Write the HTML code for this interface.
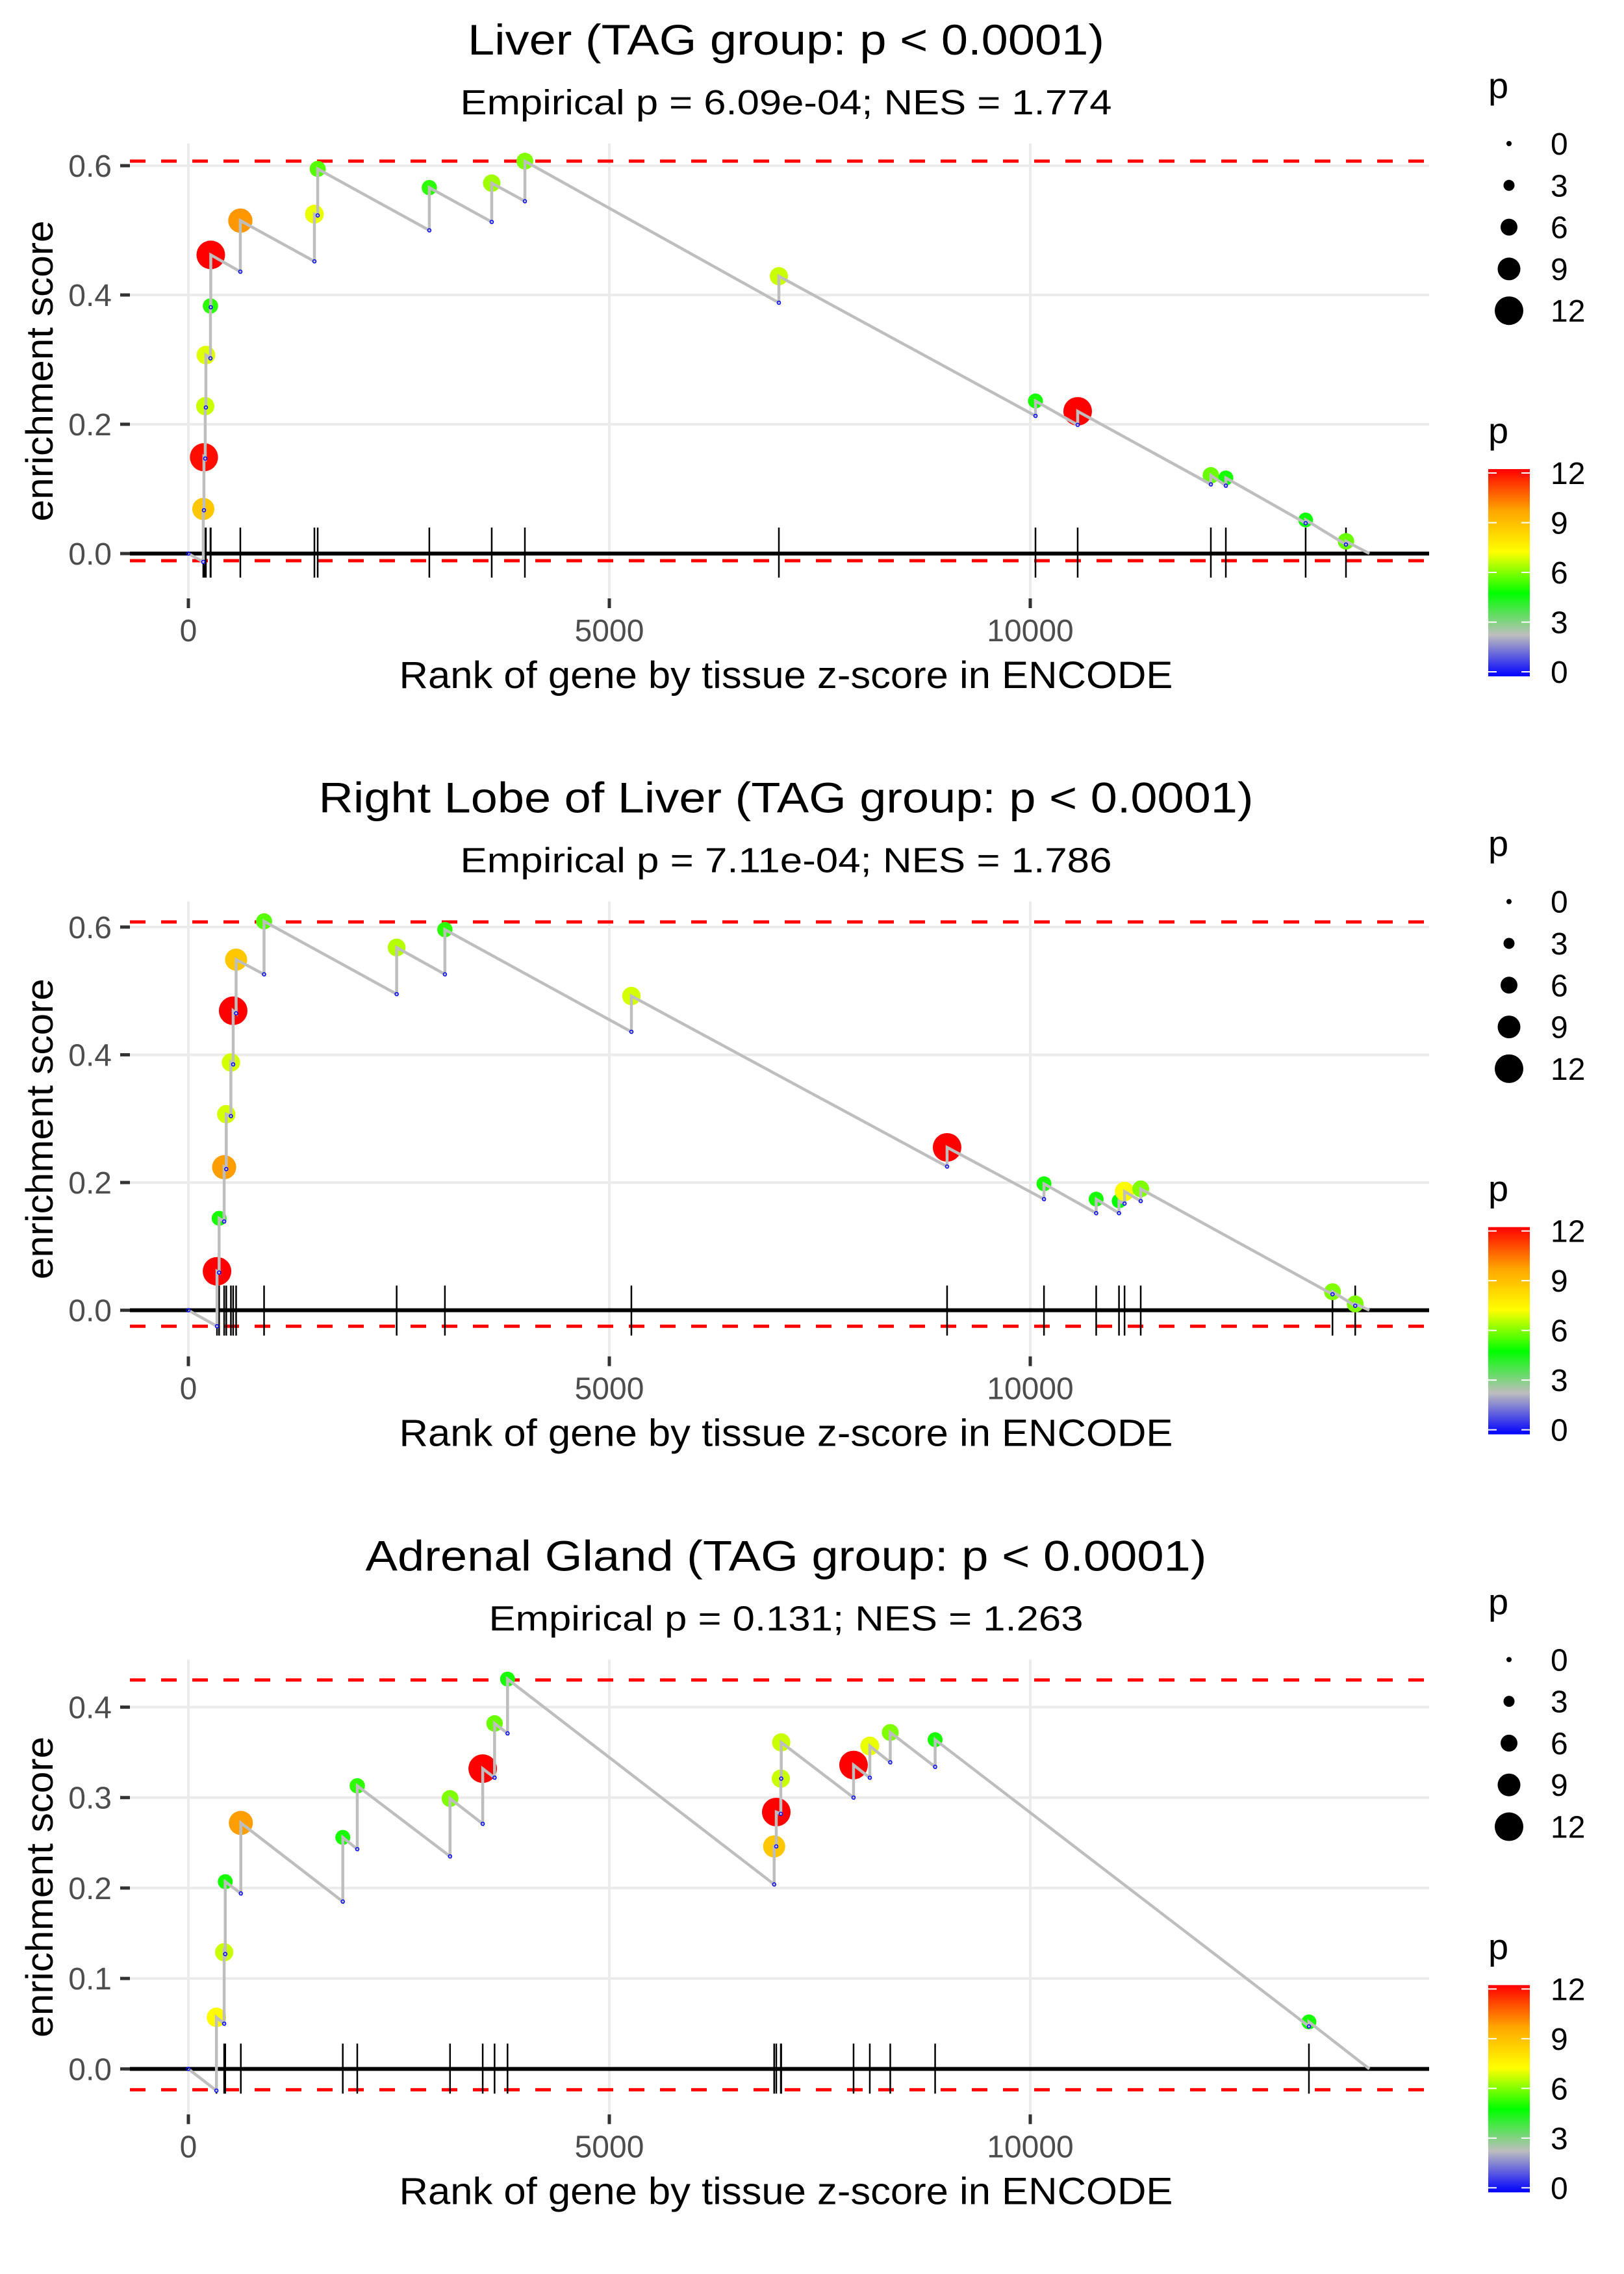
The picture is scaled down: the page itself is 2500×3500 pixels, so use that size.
<!DOCTYPE html>
<html>
<head>
<meta charset="utf-8">
<style>
html,body{margin:0;padding:0;background:#fff;}
svg{display:block;}
text{font-family:"Liberation Sans",Arial,sans-serif;}
</style>
</head>
<body>
<svg id="chart" xmlns="http://www.w3.org/2000/svg" width="2500" height="3500" viewBox="0 0 2500 3500">
<defs>
<linearGradient id="pgrad" x1="0" y1="1" x2="0" y2="0">
<stop offset="0" stop-color="#0000ff"/>
<stop offset="0.2" stop-color="#bebebe"/>
<stop offset="0.4" stop-color="#00ff00"/>
<stop offset="0.6" stop-color="#ffff00"/>
<stop offset="0.8" stop-color="#ffa500"/>
<stop offset="1" stop-color="#ff0000"/>
</linearGradient>
</defs>
</svg>
<script>
// ---------- data ----------
const nGenes = 14028;
const xTicks = [0, 5000, 10000];
const xTickLabels = ["0", "5000", "10000"];

const titles = ["Liver (TAG group: p < 0.0001)", "Right Lobe of Liver (TAG group: p < 0.0001)", "Adrenal Gland (TAG group: p < 0.0001)"];
const subtitles = ["Empirical p = 6.09e-04; NES = 1.774", "Empirical p = 7.11e-04; NES = 1.786", "Empirical p = 0.131; NES = 1.263"];
const titleLens = [980, 1439, 1295];
const subtitleLens = [1003, 1003, 915];

const p1Ranks = [177,185,200,208,262,266,617,1497,1536,2862,3603,3997,7014,10062,10563,12145,12323,13271,13750];
const p1Tops = [0.069,0.149,0.228,0.307,0.383,0.462,0.515,0.525,0.595,0.566,0.573,0.607,0.429,0.236,0.220,0.121,0.117,0.052,0.019];
const p1Bottoms = [-0.013,0.067,0.147,0.226,0.302,0.381,0.436,0.452,0.523,0.500,0.513,0.545,0.388,0.213,0.199,0.107,0.105,0.047,0.014];
const p1P = [8.7,11.8,6.7,6.9,5.2,12,9.8,7.0,5.6,5.2,6.3,6.0,6.7,5.0,12,5.8,5.0,4.9,5.8];
const p1Max = 0.607, p1Min = -0.011;
const p1YTicks = [0, 0.2, 0.4, 0.6];
const p1YTickLabels = ["0.0","0.2","0.4","0.6"];

const p2Ranks = [340,365,425,450,505,532,567,899,2474,3047,5262,9012,10163,10783,11054,11120,11312,13590,13860];
const p2Tops = [0.061,0.144,0.224,0.307,0.388,0.469,0.549,0.609,0.568,0.596,0.492,0.255,0.198,0.174,0.171,0.186,0.190,0.029,0.010];
const p2Bottoms = [-0.025,0.059,0.139,0.221,0.304,0.385,0.465,0.526,0.495,0.526,0.436,0.225,0.174,0.152,0.152,0.167,0.171,0.025,0.007];
const p2P = [12,5.0,9.7,6.8,6.8,12,8.7,5.6,6.5,5.2,6.8,12,5.0,5.0,4.8,7.3,6.0,6.0,6.0];
const p2Max = 0.608, p2Min = -0.025;
const p2YTicks = [0, 0.2, 0.4, 0.6];
const p2YTickLabels = ["0.0","0.2","0.4","0.6"];

const p3Ranks = [333,425,438,623,1834,2006,3108,3496,3637,3791,6958,6983,7037,7042,7901,8094,8337,8870,13310];
const p3Tops = [0.057,0.129,0.207,0.272,0.256,0.313,0.299,0.332,0.382,0.431,0.246,0.284,0.321,0.361,0.336,0.357,0.372,0.364,0.052];
const p3Bottoms = [-0.024,0.050,0.127,0.194,0.185,0.243,0.235,0.271,0.322,0.371,0.204,0.246,0.282,0.321,0.300,0.322,0.339,0.334,0.047];
const p3P = [7.3,6.7,5.0,9.7,5.0,5.2,6.0,12,5.8,5.0,8.7,12,6.7,6.7,12,7.0,6.0,5.0,5.0];
const p3Max = 0.430, p3Min = -0.023;
const p3YTicks = [0, 0.1, 0.2, 0.3, 0.4];
const p3YTickLabels = ["0.0","0.1","0.2","0.3","0.4"];

const legendSizes = [0, 3, 6, 9, 12];
const legendSizeLabels = ["0","3","6","9","12"];

// ---------- helpers ----------
const NS = "http://www.w3.org/2000/svg";
const svg = document.getElementById("chart");
function mk(tag, attrs, parent) {
  const e = document.createElementNS(NS, tag);
  for (const k in attrs) e.setAttribute(k, attrs[k]);
  (parent || svg).appendChild(e);
  return e;
}
const gradStops = [[0,[0,0,255]],[2.4,[190,190,190]],[4.8,[0,255,0]],[7.2,[255,255,0]],[9.6,[255,165,0]],[12,[255,0,0]]];
function pColor(p) {
  p = Math.max(0, Math.min(12, p));
  for (let i = 0; i < gradStops.length - 1; i++) {
    const a = gradStops[i], b = gradStops[i+1];
    if (p <= b[0]) {
      const t = (p - a[0]) / (b[0] - a[0]);
      const c = a[1].map((v, j) => Math.round(v + (b[1][j] - v) * t));
      return "rgb(" + c.join(",") + ")";
    }
  }
  return "rgb(255,0,0)";
}
function pRadius(p) { return 4 + 1.5 * p; }

const PL = 200, PR = 2200, PT = 221, PB = 921;
const X0 = 290, XPER = 0.1296;
function xs(r) { return X0 + r * XPER; }

function drawPanel(idx, off, ranks, tops, bottoms, pv, esMax, esMin, yTicks, yTickLabels, y0, yPer) {
  function ys(v) { return off + y0 - v * yPer; }
  const g = mk("g", {});
  
  

  // titles
  const t = mk("text", {x: 1210, y: off + 84, "text-anchor": "middle", "font-size": 66, fill: "#000", textLength: titleLens[idx], lengthAdjust: "spacingAndGlyphs"}, g);
  t.textContent = titles[idx];
  
  
  const st = mk("text", {x: 1210, y: off + 176, "text-anchor": "middle", "font-size": 54, fill: "#000", textLength: subtitleLens[idx], lengthAdjust: "spacingAndGlyphs"}, g);
  st.textContent = subtitles[idx];
  
  

  // gridlines
  for (let i = 0; i < yTicks.length; i++) {
    const gl = mk("line", {x1: PL, x2: PR, y1: ys(yTicks[i]), y2: ys(yTicks[i]), stroke: "#ebebeb", "stroke-width": 4}, g);
    
    
  }
  for (let i = 0; i < xTicks.length; i++) {
    const gl = mk("line", {x1: xs(xTicks[i]), x2: xs(xTicks[i]), y1: off + PT, y2: off + PB, stroke: "#ebebeb", "stroke-width": 4}, g);
    
    
  }
  // y ticks + labels
  for (let i = 0; i < yTicks.length; i++) {
    const tk = mk("line", {x1: 185, x2: 200, y1: ys(yTicks[i]), y2: ys(yTicks[i]), stroke: "#333", "stroke-width": 5}, g);
    
    
    const tl = mk("text", {x: 172, y: ys(yTicks[i]) + 17, "text-anchor": "end", "font-size": 48, fill: "#4d4d4d"}, g);
    tl.textContent = yTickLabels[i];
    
    
  }
  // x ticks + labels
  for (let i = 0; i < xTicks.length; i++) {
    const tk = mk("line", {x1: xs(xTicks[i]), x2: xs(xTicks[i]), y1: off + PB, y2: off + PB + 15, stroke: "#333", "stroke-width": 5}, g);
    
    
    const tl = mk("text", {x: xs(xTicks[i]), y: off + 987, "text-anchor": "middle", "font-size": 48, fill: "#4d4d4d"}, g);
    tl.textContent = xTickLabels[i];
    
    
  }
  // axis titles
  const xt = mk("text", {x: 1210, y: off + 1059, "text-anchor": "middle", "font-size": 58, fill: "#000", textLength: 1191, lengthAdjust: "spacingAndGlyphs"}, g);
  xt.textContent = "Rank of gene by tissue z-score in ENCODE";
  
  
  const yt = mk("text", {x: 0, y: 0, "text-anchor": "middle", "font-size": 58, fill: "#000", textLength: 463, lengthAdjust: "spacingAndGlyphs", transform: "translate(81," + (off + 571) + ") rotate(-90)"}, g);
  yt.textContent = "enrichment score";
  
  

  // red dashed lines
  const rmax = mk("line", {x1: PL, x2: PR, y1: ys(esMax), y2: ys(esMax), stroke: "#ff0000", "stroke-width": 5, "stroke-dasharray": "24 24"}, g);
  
  
  const rmin = mk("line", {x1: PL, x2: PR, y1: ys(esMin), y2: ys(esMin), stroke: "#ff0000", "stroke-width": 5, "stroke-dasharray": "24 24"}, g);
  
  

  // baseline
  const bl = mk("line", {x1: PL, x2: PR, y1: ys(0), y2: ys(0), stroke: "#000", "stroke-width": 6}, g);
  
  

  // rug
  for (let i = 0; i < ranks.length; i++) {
    const rg = mk("line", {x1: xs(ranks[i]), x2: xs(ranks[i]), y1: off + 812, y2: off + 889, stroke: "#000", "stroke-width": 2.5}, g);
    
    
  }

  // points
  for (let i = 0; i < ranks.length; i++) {
    const c = mk("circle", {cx: xs(ranks[i]), cy: ys(tops[i]), r: pRadius(pv[i]), fill: pColor(pv[i])}, g);
    
    
  }

  // running-sum path
  let d = "M" + xs(0) + "," + ys(0);
  for (let i = 0; i < ranks.length; i++) {
    d += " L" + xs(ranks[i]) + "," + ys(bottoms[i]) + " L" + xs(ranks[i]) + "," + ys(tops[i]);
  }
  d += " L" + xs(nGenes) + "," + ys(0);
  const path = mk("path", {d: d, fill: "none", stroke: "#bebebe", "stroke-width": 4.5, "stroke-linejoin": "miter"}, g);
  
  

  // small blue bottom markers
  for (let i = 0; i < ranks.length; i++) {
    const b = mk("circle", {cx: xs(ranks[i]), cy: ys(bottoms[i]), r: 2.5, fill: "none", stroke: "#0000ff", "stroke-width": 1.5}, g);
    
    
  }
  const sb = mk("circle", {cx: xs(0), cy: ys(0), r: 2.5, fill: "none", stroke: "#0000ff", "stroke-width": 1.5}, g);
  
  

  // size legend
  const lt = mk("text", {x: 2291, y: off + 151, "font-size": 56, fill: "#000"}, g);
  lt.textContent = "p";
  
  
  for (let i = 0; i < legendSizes.length; i++) {
    const cy = off + 221 + i * 64.3;
    const lc = mk("circle", {cx: 2323, cy: cy, r: pRadius(legendSizes[i]), fill: "#000"}, g);
    
    
    const ll = mk("text", {x: 2387, y: cy + 17, "font-size": 48, fill: "#000"}, g);
    ll.textContent = legendSizeLabels[i];
    
    
  }
  // colorbar
  const ct = mk("text", {x: 2291, y: off + 682, "font-size": 56, fill: "#000"}, g);
  ct.textContent = "p";
  
  
  const cb = mk("rect", {x: 2291, y: off + 722, width: 64, height: 319, fill: "url(#pgrad)"}, g);
  
  
  for (let i = 0; i < legendSizes.length; i++) {
    const cy = off + 1034 - legendSizes[i] * 25.5;
    const t1 = mk("line", {x1: 2291, x2: 2304, y1: cy, y2: cy, stroke: "#fff", "stroke-width": 2}, g);
    
    
    const t2 = mk("line", {x1: 2342, x2: 2355, y1: cy, y2: cy, stroke: "#fff", "stroke-width": 2}, g);
    
    
    const cl = mk("text", {x: 2387, y: cy + 17, "font-size": 48, fill: "#000"}, g);
    cl.textContent = legendSizeLabels[i];
    
    
  }
}

drawPanel(0, 0, p1Ranks, p1Tops, p1Bottoms, p1P, p1Max, p1Min, p1YTicks, p1YTickLabels, 852, 995);
drawPanel(1, 1166.67, p2Ranks, p2Tops, p2Bottoms, p2P, p2Max, p2Min, p2YTicks, p2YTickLabels, 850, 983);
drawPanel(2, 2333.33, p3Ranks, p3Tops, p3Bottoms, p3P, p3Max, p3Min, p3YTicks, p3YTickLabels, 851, 1392);
</script>
</body>
</html>
